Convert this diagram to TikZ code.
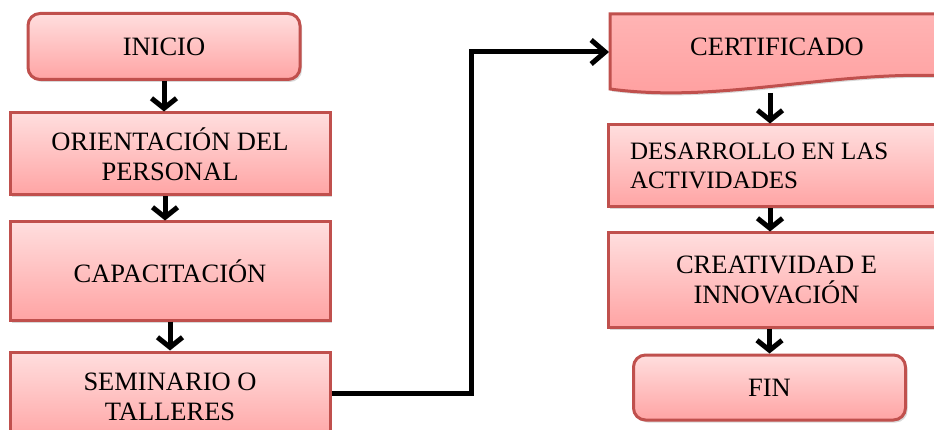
\documentclass[tikz,border=0pt]{standalone}
\usepackage{fontspec}
\setmainfont{Liberation Serif}
\usetikzlibrary{arrows.meta,shadows}
\definecolor{boxedge}{HTML}{C0504D}
\definecolor{boxtop}{HTML}{FFDEDE}
\definecolor{boxbot}{HTML}{FFA4A4}
\definecolor{certtop}{HTML}{FFB4B4}
\definecolor{certbot}{HTML}{FF9E9E}
\begin{document}
\begin{tikzpicture}[x=1pt,y=-1pt,
  shad/.style={drop shadow={shadow xshift=2pt,shadow yshift=-2.5pt,fill=black!30}},
  box/.style={draw=boxedge, line width=3pt, top color=boxtop, bottom color=boxbot, shad,
    inner sep=0pt, align=center, font=\fontsize{26.5}{30}\selectfont},
  rbox/.style={box, rounded corners=12pt},
  flow/.style={line width=5pt, -{Straight Barb[length=10pt,width=25pt]}},
  longflow/.style={line width=5pt, line join=miter, -{Straight Barb[length=14pt,width=24pt]}},
  lbl/.style={inner sep=0pt, align=center, font=\fontsize{26.5}{30}\selectfont},
]
\useasboundingbox (0,0) rectangle (934,430);
\clip (0,0) rectangle (934,430);

% left column
\node[rbox, minimum width=272pt, minimum height=66pt] (inicio) at (164,46.5) {INICIO};
\node[box, minimum width=320pt, minimum height=82pt] (orient) at (170,154) {ORIENTACIÓN DEL\\PERSONAL};
\node[box, minimum width=320pt, minimum height=98pt] (capac) at (170,271) {CAPACITACIÓN};
\node[box, minimum width=320pt, minimum height=90pt] (semin) at (170,397) {SEMINARIO O\\TALLERES};

% right column
\path[draw=boxedge, line width=3pt, top color=certtop, bottom color=certbot, shad]
  (610,14) -- (950,14) -- (950,76) .. controls (830,70) and (720,104) .. (610,89) -- cycle;
\node[lbl] (cert) at (777,47) {CERTIFICADO};
\coordinate (certb) at (770,93);
\coordinate (certin) at (609,52);
\node[box, minimum width=337pt, minimum height=82pt, text width=293pt, align=flush left,
  font=\fontsize{25}{29}\selectfont] (des) at (776.5,166) {DESARROLLO EN LAS\\ACTIVIDADES};
\node[box, minimum width=337pt, minimum height=94pt] (cre) at (776.5,280) {CREATIVIDAD E\\INNOVACIÓN};
\node[rbox, minimum width=272pt, minimum height=65pt] (fin) at (769.5,387.5) {FIN};

% connectors
\draw[flow] (inicio.south) -- (inicio.south |- orient.north);
\draw[flow] ([xshift=-5pt]orient.south) -- ([xshift=-5pt]capac.north);
\draw[flow] (capac.south) -- (semin.north);
\draw[longflow] ([yshift=4pt]semin.east) -- ++(140,0) |- (certin);
\draw[flow] (certb) -- (certb |- des.north);
\draw[flow] ([xshift=-6.5pt]des.south) -- ([xshift=-6.5pt]cre.north);
\draw[flow] (cre.south -| fin.north) -- (fin.north);
\end{tikzpicture}
\end{document}
